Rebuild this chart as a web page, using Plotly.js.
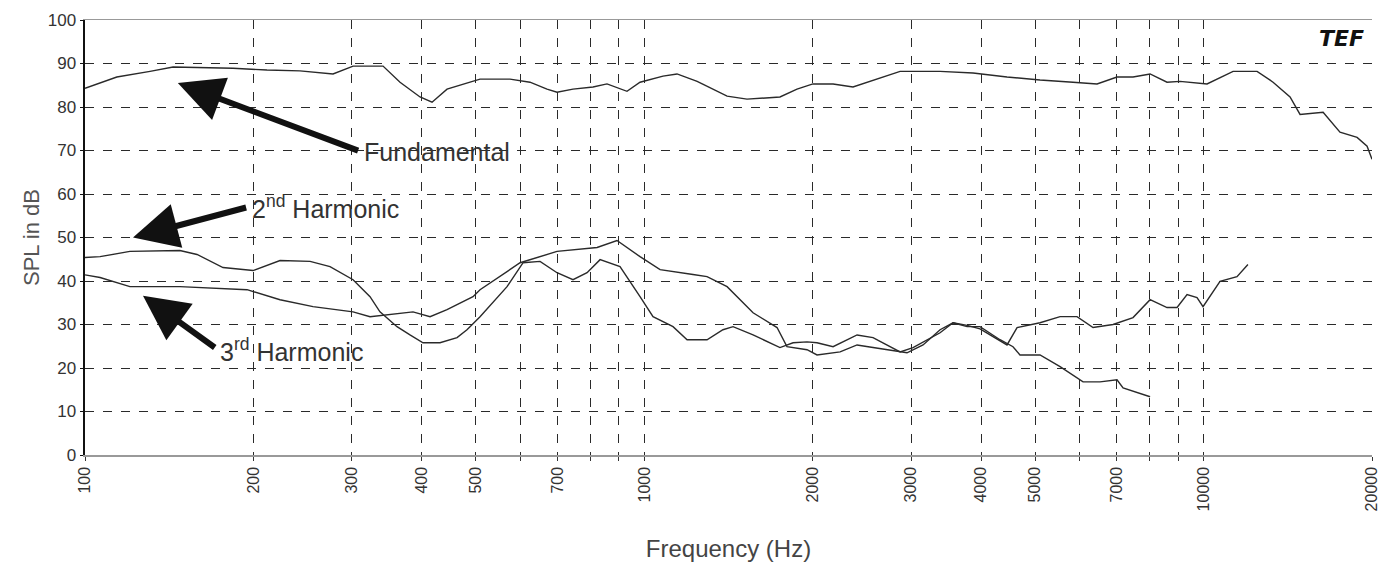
<!DOCTYPE html>
<html>
<head>
<meta charset="utf-8">
<script src="https://cdn.plot.ly/plotly-3.0.1.min.js"></script>
<style>html,body{margin:0;padding:0;background:#fff;}#chart{width:1391px;height:569px;}</style>
</head>
<body>
<div id="chart"></div>
<script>
// Frequencies (Hz) and SPL (dB)
const fundFreq = [100,114,130.7,143.7,183.9,211.5,242.3,277.6,301.5,341.1,365.8,397.2,417.3,443.9,488,508.5,575.3,624.6,669.9,698.1,745.6,809.6,857.6,904.8,931.2,982.5,1080,1144,1243,1406,1526,1748,1875,2002,2175,2361,2606,2866,3379,3870,4451,5099,5841,6448,7000,7478,8022,8601,9073,10141,11289,12461,13310,14273,14873,16354,17530,18810,19600,20000];
const fundDb   = [84.3,86.9,88.2,89.2,88.9,88.5,88.3,87.6,89.4,89.4,85.7,82.3,81.1,84.1,85.7,86.4,86.4,85.7,84.1,83.4,84.1,84.6,85.3,84.1,83.6,85.7,87.1,87.6,85.9,82.5,81.8,82.3,84.1,85.3,85.3,84.6,86.4,88.2,88.2,87.8,86.9,86.2,85.7,85.3,86.9,86.9,87.6,85.7,85.9,85.3,88.2,88.2,85.7,82.3,78.3,78.8,74.2,73,71,68];

const h2Freq = [100,106.4,120.3,147.8,158.6,176.5,199.7,208.1,223.2,252.6,274.2,301.5,323.3,336.8,361.3,381.1,402.1,431.2,462.6,481.9,508.5,568.3,607.1,651,698.1,745.6,790,833.5,904.8,982.5,1036.5,1125.5,1192.5,1294.6,1382.4,1441,1564.7,1748,1845,1954,2036,2175,2401,2564,2866,3023,3379,3565,3776,3983,4202,4451,4639,5099,5538,5938,6343,6887,7478,8022,8601,8963,9340,9732,9975,10698,11472,12000];
const h2Db   = [45.4,45.6,46.8,47,46.1,43.1,42.4,43.3,44.7,44.5,43.3,40.3,36.4,32.9,29.5,27.6,25.8,25.8,27,28.8,31.8,38.7,44.2,44.5,41.9,40.3,41.9,44.9,43.3,36.4,31.8,29.5,26.5,26.5,28.8,29.5,27.6,24.7,25.8,26,25.8,24.9,27.6,27,23.7,24.7,28.1,30.4,29.8,29,27.2,25.3,29.3,30.4,31.8,31.8,29.3,30,31.6,35.7,33.9,33.9,36.9,36.2,34.1,39.9,41,43.8];

const h3Freq = [100,106.4,120.3,147.8,194.9,223.2,255.7,301.5,323.3,346.7,385.9,413.9,443.9,494,508.5,599.7,698.1,823.3,893.6,982.5,1067,1222,1294.6,1406,1564.7,1727,1799,1954,2036,2239,2401,2564,2949,3150,3379,3565,3776,3983,4325,4562,4695,5099,5538,6087,6528,7000,7177,8022];
const h3Db   = [41.4,40.8,38.7,38.7,38,35.7,34.1,32.9,31.8,32.3,32.9,31.8,33.4,36.4,38,44.2,46.8,47.7,49.3,45.6,42.6,41.5,41,38.7,32.7,29.3,24.9,24.2,23,23.7,25.3,24.7,23.5,25.3,28.8,30.4,29.5,29.5,26.5,24.9,23,23,20.3,16.8,16.8,17.3,15.4,13.4];

const labelFreqs = [100,200,300,400,500,700,1000,2000,3000,4000,5000,7000,10000,20000];
const tickLabels = ['100','200','300','400','500','700','1000','2000','3000','4000','5000','7000','10000','20000'];
const minorGridFreqs = [600,800,900,6000,8000,9000];
const dbTicks = [0,10,20,30,40,50,60,70,80,90,100];

const lineStyle = {color:'#2a2a2a', width:1.4};
const traces = [
  {x:fundFreq, y:fundDb, name:'Fundamental', mode:'lines', line:lineStyle},
  {x:h2Freq, y:h2Db, name:'2nd Harmonic', mode:'lines', line:lineStyle},
  {x:h3Freq, y:h3Db, name:'3rd Harmonic', mode:'lines', line:lineStyle}
];

const textFont = {family:'Liberation Sans, Arial, sans-serif', size:25, color:'#333'};
const labelArrow = {xref:'x', yref:'y', axref:'pixel', ayref:'pixel', showarrow:true, arrowhead:2, arrowsize:1.5, arrowwidth:6, arrowcolor:'#111', standoff:0, startstandoff:4, xanchor:'left', yanchor:'middle', font:textFont};

const layout = {
  width:1391, height:569,
  margin:{l:85, r:19, t:20, b:114},
  paper_bgcolor:'#fff', plot_bgcolor:'#fff',
  showlegend:false,
  font:{family:'Liberation Sans, Arial, sans-serif', color:'#333'},
  xaxis:{type:'log', range:[2, Math.log10(20000)], tickmode:'array', tickvals:labelFreqs, ticktext:tickLabels,
         tickangle:-90, tickfont:{size:16, color:'#333'}, ticks:'outside', ticklen:4, tickcolor:'#333',
         showgrid:true, gridcolor:'#2a2a2a', griddash:'dash', gridwidth:1,
         minor:{tickmode:'array', tickvals:minorGridFreqs, showgrid:true, gridcolor:'#2a2a2a', griddash:'dash', gridwidth:1, ticks:'outside', ticklen:4, tickcolor:'#333'},
         showline:true, linecolor:'#999', linewidth:1.5, mirror:true, zeroline:false,
         title:{text:'Frequency (Hz)', font:{size:24, color:'#444'}, standoff:30}},
  yaxis:{range:[0,100], tickmode:'array', tickvals:dbTicks, tickfont:{size:17, color:'#333'},
         ticks:'outside', ticklen:3, tickcolor:'#111',
         showgrid:true, gridcolor:'#2a2a2a', griddash:'dash', gridwidth:1,
         showline:true, linecolor:'#111', linewidth:2.5, zeroline:false,
         title:{text:'SPL in dB', font:{size:22, color:'#555'}, standoff:2}},
  annotations:[
    Object.assign({}, labelArrow, {x:2.166, y:85.5, ax:184, ay:69, text:'Fundamental'}),
    Object.assign({}, labelArrow, {x:2.0858, y:50, ax:117, ay:-31, text:'2<sup>nd</sup> Harmonic'}),
    Object.assign({}, labelArrow, {x:2.1037, y:36.6, ax:75, ay:54, text:'3<sup>rd</sup> Harmonic'}),
    {xref:'paper', yref:'paper', x:0.995, y:0.99, xanchor:'right', yanchor:'top', showarrow:false,
     text:'<b><i>TEF</i></b>', font:{family:'DejaVu Sans, sans-serif', size:22, color:'#111'}}
  ]
};

Plotly.newPlot('chart', traces, layout, {displayModeBar:false, staticPlot:true});
</script>
</body>
</html>
